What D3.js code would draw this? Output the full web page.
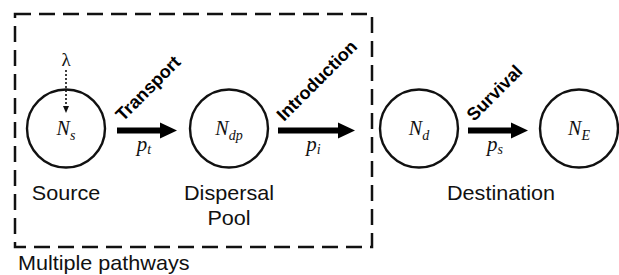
<!DOCTYPE html>
<html>
<head>
<meta charset="utf-8">
<script src="https://cdn.jsdelivr.net/npm/d3@7"></script>
<style>
  body { margin: 0; background: #fff; }
  .cap { font-family: "Liberation Sans", Arial, sans-serif; font-size: 20px; fill: #111; }
  .step { font-family: "Liberation Sans", Arial, sans-serif; font-size: 18px; font-weight: bold; fill: #000; }
</style>
</head>
<body>
<svg class="flow" width="619" height="275"></svg>
<script>
// diagram content
var nodeIds = ["s", "dp", "d", "E"];
var nodeSymbol = "N";
var stepNames = ["Transport", "Introduction", "Survival"];
var stepProbSub = ["t", "i", "s"];
var captions = [["Source"], ["Dispersal", "Pool"], ["Destination"]];
var sourceRate = "\u03bb";
var groupLabel = "Multiple pathways";

// layout
var nodeX = d3.scaleOrdinal().domain(nodeIds).range([66, 229, 419, 579]),
    nodeY = 128.5,
    radius = 39,
    arrowY = 130.5,
    arrowSpan = [[117, 177], [278, 355], [468, 528]],
    captionX = [66, 229, 501],
    box = {x: 15, y: 14, w: 357, h: 233},
    serif = "'Liberation Serif', 'Times New Roman', Times, serif";

var svg = d3.select("svg.flow");

// dashed "multiple pathways" box
svg.append("rect")
    .attr("x", box.x).attr("y", box.y)
    .attr("width", box.w).attr("height", box.h)
    .attr("fill", "none")
    .attr("stroke", "#111")
    .attr("stroke-width", 2.5)
    .attr("stroke-dasharray", "16,8");

svg.append("text")
    .attr("class", "cap")
    .attr("transform", "translate(18,270) scale(1.08,1)")
    .text(groupLabel);

// nodes
var node = svg.selectAll(".node")
  .data(nodeIds)
  .enter().append("g")
    .attr("class", "node")
    .attr("transform", function(d) { return "translate(" + nodeX(d) + "," + nodeY + ")"; });

node.append("circle")
    .attr("r", radius)
    .attr("fill", "#fff")
    .attr("stroke", "#111")
    .attr("stroke-width", 2.4);

var lab = node.append("text")
    .attr("text-anchor", "middle")
    .attr("y", 6)
    .attr("font-family", serif)
    .attr("font-style", "italic")
    .attr("font-size", 20)
    .attr("fill", "#111");
lab.append("tspan").text(nodeSymbol);
lab.append("tspan")
    .attr("dy", 5)
    .attr("font-size", 14)
    .text(function(d) { return d; });

// step arrows
function arrowPath(x0, x1, y) {
  var p = d3.path(), hw = 8, sw = 3, hl = 17;
  p.moveTo(x0, y - sw);
  p.lineTo(x1 - hl, y - sw);
  p.lineTo(x1 - hl, y - hw);
  p.lineTo(x1, y);
  p.lineTo(x1 - hl, y + hw);
  p.lineTo(x1 - hl, y + sw);
  p.lineTo(x0, y + sw);
  p.closePath();
  return p.toString();
}

var step = svg.selectAll(".step-g")
  .data(stepNames)
  .enter().append("g")
    .attr("class", "step-g");

step.append("path")
    .attr("d", function(d, i) { return arrowPath(arrowSpan[i][0], arrowSpan[i][1], arrowY); })
    .attr("fill", "#000");

step.append("text")
    .attr("class", "step")
    .attr("transform", function(d, i) { return "translate(" + (arrowSpan[i][0] + 6) + ",122) rotate(-45)"; })
    .text(function(d) { return d; });

var prob = step.append("text")
    .attr("text-anchor", "middle")
    .attr("x", function(d, i) { return (arrowSpan[i][0] + arrowSpan[i][1]) / 2 - 3; })
    .attr("y", 151)
    .attr("font-family", serif)
    .attr("font-style", "italic")
    .attr("font-size", 21)
    .attr("fill", "#111");
prob.append("tspan").text("p");
prob.append("tspan")
    .attr("dy", 3)
    .attr("font-size", 14)
    .text(function(d, i) { return stepProbSub[i]; });

// captions
svg.selectAll(".caption")
  .data(captions)
  .enter().append("text")
    .attr("class", "cap")
    .attr("text-anchor", "middle")
    .attr("transform", function(d, i) { return "translate(" + captionX[i] + ",200) scale(1.08,1)"; })
  .selectAll("tspan")
  .data(function(d) { return d; })
  .enter().append("tspan")
    .attr("x", 0)
    .attr("y", function(d, j) { return j * 25; })
    .text(function(d) { return d; });

// immigration rate into the source
svg.append("text")
    .attr("text-anchor", "middle")
    .attr("x", nodeX("s"))
    .attr("y", 66)
    .attr("font-family", serif)
    .attr("font-size", 19)
    .attr("fill", "#111")
    .text(sourceRate);

svg.append("line")
    .attr("x1", nodeX("s")).attr("x2", nodeX("s"))
    .attr("y1", 70).attr("y2", 107)
    .attr("stroke", "#111")
    .attr("stroke-width", 1.6)
    .attr("stroke-dasharray", "2,2");

svg.append("path")
    .attr("d", "M" + (nodeX("s") - 3) + ",106L" + (nodeX("s") + 3) + ",106L" + nodeX("s") + ",113Z")
    .attr("fill", "#111");
</script>
</body>
</html>
